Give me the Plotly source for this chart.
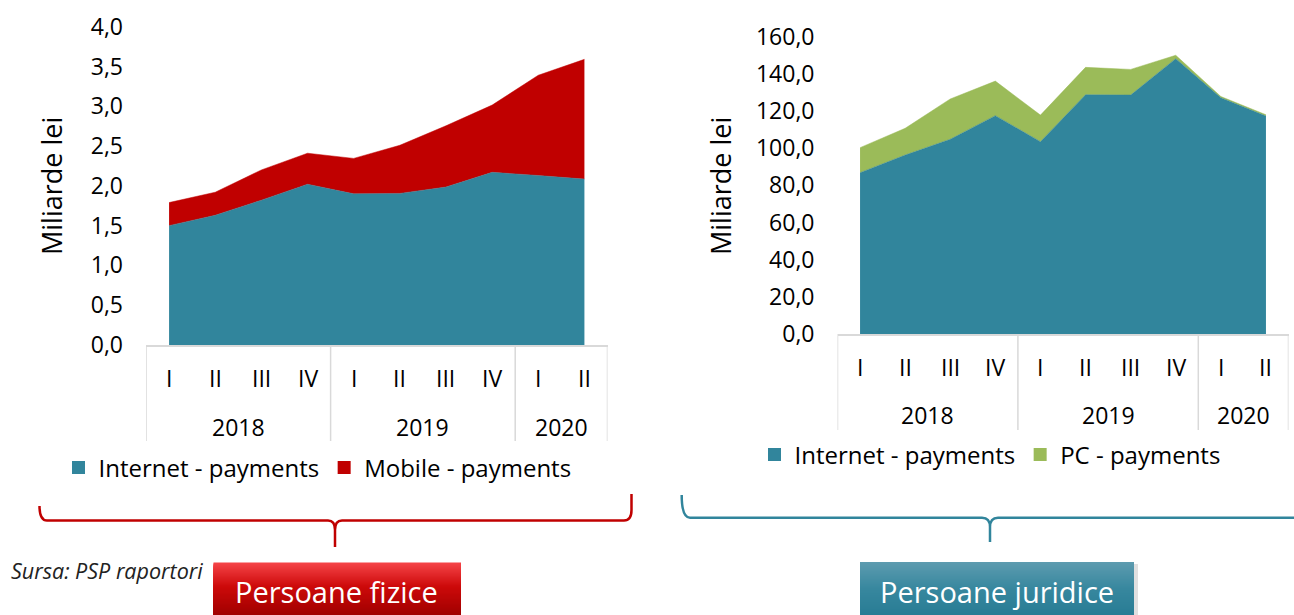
import plotly.graph_objects as go

# ---------------- data ----------------
quarters = ["I", "II", "III", "IV", "I", "II", "III", "IV", "I", "II"]
years = ["2018", "2018", "2018", "2018", "2019", "2019", "2019", "2019", "2020", "2020"]

# Persoane fizice (miliarde lei)
internet_pf = [1.50, 1.63, 1.82, 2.02, 1.90, 1.905, 1.985, 2.17, 2.13, 2.085]
mobile_pf = [0.29, 0.29, 0.38, 0.39, 0.445, 0.605, 0.77, 0.845, 1.26, 1.505]

# Persoane juridice (miliarde lei)
internet_pj = [86.8, 96.3, 104.8, 117.5, 103.5, 128.8, 128.6, 148.2, 127.2, 117.3]
pc_pj = [13.5, 14.4, 21.7, 18.6, 14.3, 14.7, 13.8, 1.8, 0.6, 0.7]

series_left = ["Internet - payments", "Mobile - payments"]
series_right = ["Internet - payments", "PC - payments"]
axis_title = "Miliarde lei"
source_text = "Sursa: PSP raportori"
box_labels = ["Persoane fizice", "Persoane juridice"]

# ---------------- style ----------------
TEAL = "#31859C"
RED = "#C00000"
GREEN = "#9BBB59"
GRID = "#D9D9D9"
FONT = "Open Sans"
W, H = 1294, 615
TICK_SIZE = 23
LEG_SIZE = 24


def px(x):
    return x / W


def py(y):
    return 1 - y / H


idx = list(range(len(quarters)))

fig = go.Figure()

# left chart areas
fig.add_trace(go.Scatter(x=idx, y=internet_pf, stackgroup="pf", mode="lines",
                         line=dict(width=0.5, color=TEAL), fillcolor=TEAL,
                         showlegend=False, xaxis="x", yaxis="y"))
fig.add_trace(go.Scatter(x=idx, y=mobile_pf, stackgroup="pf", mode="lines",
                         line=dict(width=0.5, color=RED), fillcolor=RED,
                         showlegend=False, xaxis="x", yaxis="y"))
# right chart areas
fig.add_trace(go.Scatter(x=idx, y=internet_pj, stackgroup="pj", mode="lines",
                         line=dict(width=0.5, color=TEAL), fillcolor=TEAL,
                         showlegend=False, xaxis="x2", yaxis="y2"))
fig.add_trace(go.Scatter(x=idx, y=pc_pj, stackgroup="pj", mode="lines",
                         line=dict(width=0.5, color=GREEN), fillcolor=GREEN,
                         showlegend=False, xaxis="x2", yaxis="y2"))

# legend entries (square symbols)
for name, col in zip(series_left, [TEAL, RED]):
    fig.add_trace(go.Scatter(x=[None], y=[None], mode="markers", name=name,
                             marker=dict(symbol="square", size=13, color=col),
                             legend="legend", xaxis="x", yaxis="y"))
for name, col in zip(series_right, [TEAL, GREEN]):
    fig.add_trace(go.Scatter(x=[None], y=[None], mode="markers", name=name,
                             marker=dict(symbol="square", size=13, color=col),
                             legend="legend2", xaxis="x2", yaxis="y2"))

# geometry (pixels)
L = dict(x0=146, x1=607.5, y0=345, y1=26.7, qy=378, yy=427, div_bottom=441)
R = dict(x0=837.5, x1=1288.5, y0=334, y1=36.7, qy=367, yy=415, div_bottom=430)

n = len(quarters)
common_x = dict(range=[-0.5, n - 0.5], showticklabels=False, showgrid=False,
                zeroline=False, showline=True, linecolor=GRID, linewidth=1.5,
                ticks="", fixedrange=True)
common_y = dict(showgrid=False, zeroline=False, showline=False, ticks="",
                tickformat=".1f", tickfont=dict(size=TICK_SIZE, color="#000"),
                ticklabelstandoff=22, fixedrange=True)

fig.update_layout(
    width=W, height=H, margin=dict(l=0, r=0, t=0, b=0, autoexpand=False),
    paper_bgcolor="white", plot_bgcolor="rgba(0,0,0,0)",
    font=dict(family=FONT, color="#000"),
    separators=", ",
    xaxis=dict(domain=[px(L["x0"]), px(L["x1"])], anchor="y", **common_x),
    yaxis=dict(domain=[py(L["y0"]), py(L["y1"])], anchor="x", range=[0, 4],
               dtick=0.5, **common_y),
    xaxis2=dict(domain=[px(R["x0"]), px(R["x1"])], anchor="y2", **common_x),
    yaxis2=dict(domain=[py(R["y0"]), py(R["y1"])], anchor="x2", range=[0, 160],
                dtick=20, **common_y),
    legend=dict(orientation="h", x=px(317.5), y=py(468), xanchor="center",
                yanchor="middle", font=dict(size=LEG_SIZE), bgcolor="rgba(0,0,0,0)",
                traceorder="normal"),
    legend2=dict(orientation="h", x=px(990), y=py(455), xanchor="center",
                 yanchor="middle", font=dict(size=LEG_SIZE), bgcolor="rgba(0,0,0,0)",
                 traceorder="normal"),
)

annotations = []
shapes = []


def category_axis(xref, geo):
    # quarter labels
    for i, q in enumerate(quarters):
        annotations.append(dict(x=i, y=py(geo["qy"]), xref=xref, yref="paper",
                                text=q, showarrow=False, font=dict(size=TICK_SIZE),
                                xanchor="center", yanchor="middle"))
    # year groups
    groups = []
    for i, yv in enumerate(years):
        if groups and groups[-1][0] == yv:
            groups[-1][2] = i
        else:
            groups.append([yv, i, i])
    for yv, a, b in groups:
        annotations.append(dict(x=(a + b) / 2, y=py(geo["yy"]), xref=xref,
                                yref="paper", text=yv, showarrow=False,
                                font=dict(size=TICK_SIZE), xanchor="center",
                                yanchor="middle"))
    bounds = [groups[0][1] - 0.5] + [g[2] + 0.5 for g in groups]
    for bx in bounds:
        shapes.append(dict(type="line", xref=xref, yref="paper", x0=bx, x1=bx,
                           y0=py(geo["y0"]), y1=py(geo["div_bottom"]),
                           line=dict(color=GRID, width=1.5)))


category_axis("x", L)
category_axis("x2", R)

# y-axis titles
annotations.append(dict(x=px(51), y=py(186), xref="paper", yref="paper",
                        text=axis_title, textangle=-90, showarrow=False,
                        font=dict(size=27), xanchor="center", yanchor="middle"))
annotations.append(dict(x=px(720), y=py(186), xref="paper", yref="paper",
                        text=axis_title, textangle=-90, showarrow=False,
                        font=dict(size=27), xanchor="center", yanchor="middle"))

# source
annotations.append(dict(x=px(9), y=py(570), xref="paper", yref="paper",
                        text="<i>" + source_text + "</i>", showarrow=False,
                        font=dict(size=21.5, color="#222"), xanchor="left",
                        yanchor="middle"))


def pth(points):
    out = []
    for cmd, *coords in points:
        vals = []
        for k in range(0, len(coords), 2):
            vals.append(f"{px(coords[k]):.5f},{py(coords[k+1]):.5f}")
        out.append(cmd + " ".join(vals))
    return " ".join(out)


# braces
brace_l = pth([("M", 39.5, 506), ("Q", 39.5, 520.5, 47, 520.5), ("L", 328, 520.5),
               ("Q", 335, 520.5, 335, 530), ("L", 335, 547), ("M", 335, 530),
               ("Q", 335, 520.5, 342, 520.5), ("L", 624, 520.5),
               ("Q", 631.5, 520.5, 631.5, 510), ("L", 631.5, 494)])
shapes.append(dict(type="path", xref="paper", yref="paper", path=brace_l,
                   line=dict(color=RED, width=2.5)))
brace_r = pth([("M", 681.7, 495), ("Q", 681.7, 517.7, 690, 517.7), ("L", 982, 517.7),
               ("Q", 990, 517.7, 990, 527), ("L", 990, 542), ("M", 990, 527),
               ("Q", 990, 517.7, 998, 517.7), ("L", 1296, 517.7)])
shapes.append(dict(type="path", xref="paper", yref="paper", path=brace_r,
                   line=dict(color=TEAL, width=2.5)))


def lerp(c1, c2, t):
    return tuple(round(a + (b - a) * t) for a, b in zip(c1, c2))


def gradient_box(x0, x1, y0, y1, stops):
    # stacked rects, each one reaching the bottom, so no seams appear
    steps = int(y1 - y0)
    for k in range(steps):
        t = k / max(steps - 1, 1)
        c = stops[-1][1]
        for j in range(len(stops) - 1):
            if stops[j][0] <= t <= stops[j + 1][0]:
                tt = (t - stops[j][0]) / (stops[j + 1][0] - stops[j][0])
                c = lerp(stops[j][1], stops[j + 1][1], tt)
                break
        shapes.append(dict(type="rect", xref="paper", yref="paper",
                           x0=px(x0), x1=px(x1), y0=py(y0 + k), y1=py(y1),
                           line=dict(width=0), fillcolor=f"rgb{c}", layer="above"))


# shadow for teal box
shapes.append(dict(type="rect", xref="paper", yref="paper", x0=px(862), x1=px(1138),
                   y0=py(564), y1=py(616), line=dict(width=0),
                   fillcolor="rgba(0,0,0,0.12)", layer="above"))
gradient_box(213.5, 461, 562.5, 616,
             [(0, (245, 68, 72)), (0.45, (205, 10, 10)), (1, (160, 0, 0))])
gradient_box(860, 1134, 562, 616,
             [(0, (92, 155, 175)), (0.5, (55, 135, 158)), (1, (40, 124, 148))])

annotations.append(dict(x=px(337), y=py(591), xref="paper", yref="paper",
                        text=box_labels[0], showarrow=False,
                        font=dict(size=29, color="white"), xanchor="center",
                        yanchor="middle"))
annotations.append(dict(x=px(997), y=py(591), xref="paper", yref="paper",
                        text=box_labels[1], showarrow=False,
                        font=dict(size=29, color="white"), xanchor="center",
                        yanchor="middle"))

fig.update_layout(annotations=annotations, shapes=shapes)

fig.write_html(
    "out.html",
    config={"displayModeBar": False},
    post_script="document.body.style.margin='0';document.body.style.padding='0';"
                "document.documentElement.style.overflow='hidden';",
)
